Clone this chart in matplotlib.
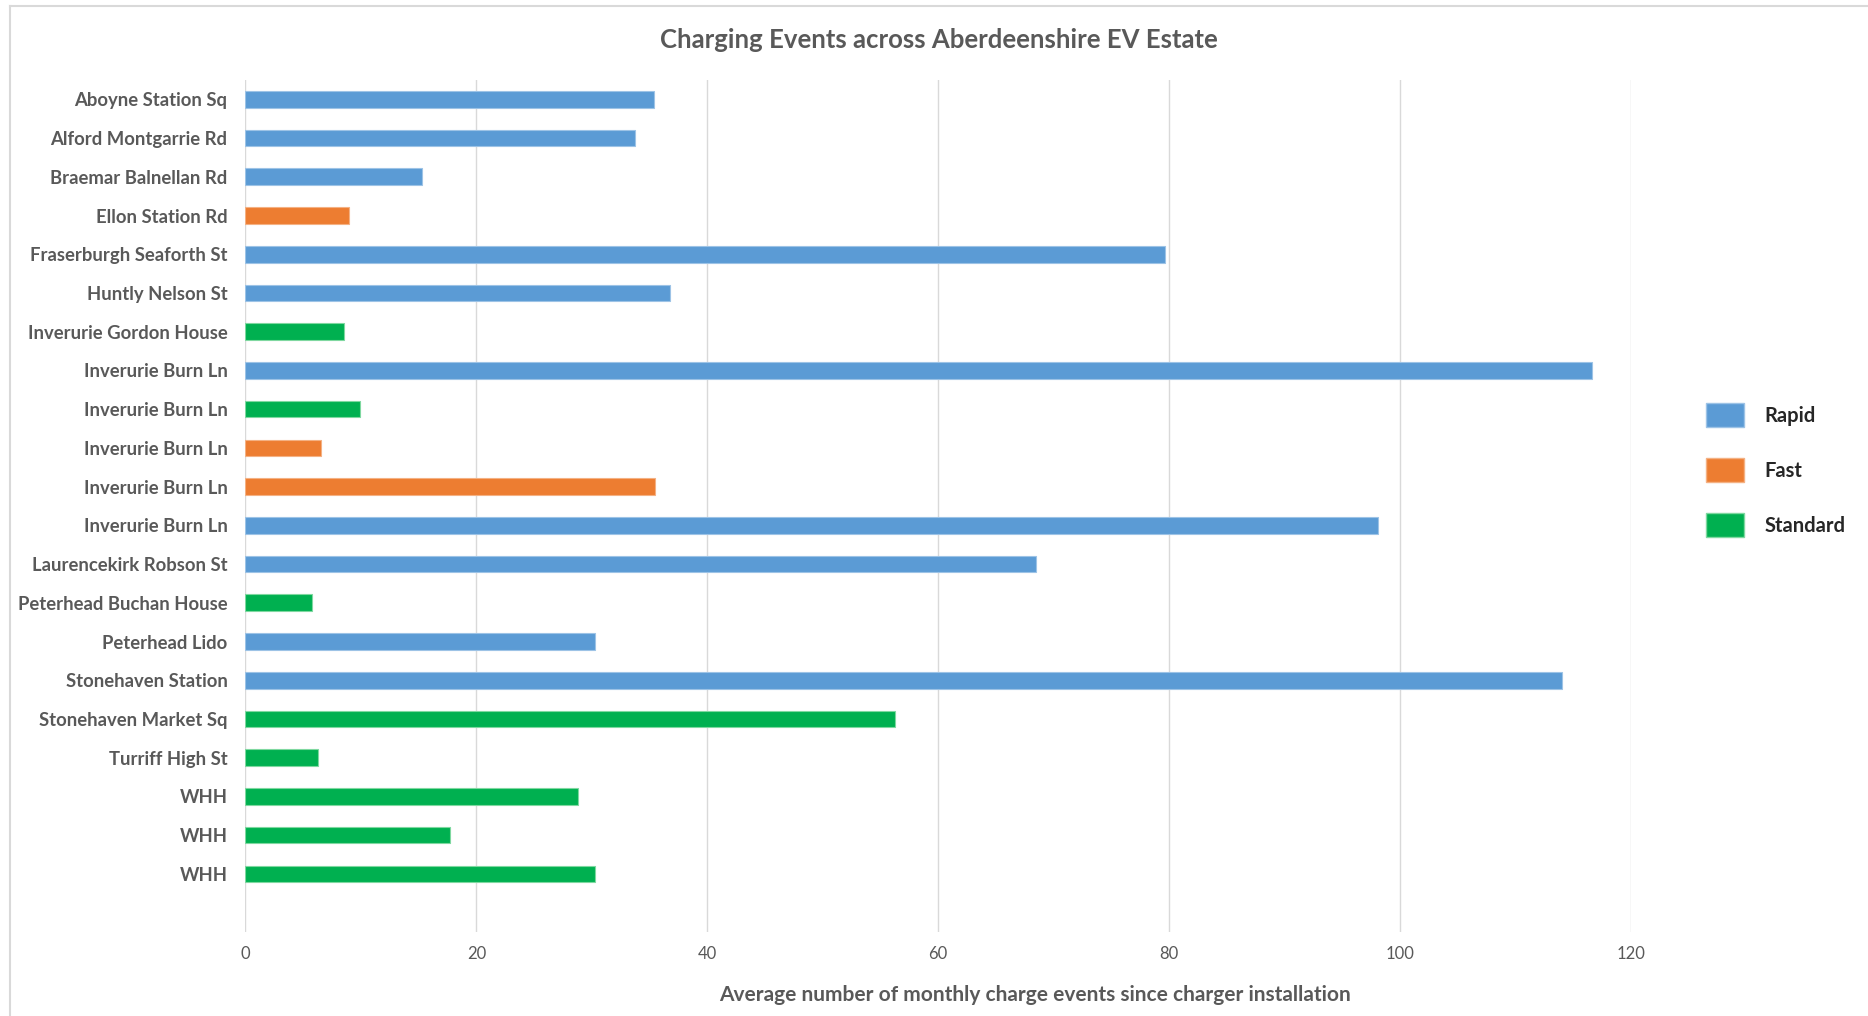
import matplotlib
matplotlib.use("Agg")
import matplotlib.pyplot as plt
from matplotlib.patches import Patch
from matplotlib.lines import Line2D

# Chart data
sites = [
    "Aboyne Station Sq", "Alford Montgarrie Rd", "Braemar Balnellan Rd", "Ellon Station Rd",
    "Fraserburgh Seaforth St", "Huntly Nelson St", "Inverurie Gordon House", "Inverurie Burn Ln",
    "Inverurie Burn Ln", "Inverurie Burn Ln", "Inverurie Burn Ln", "Inverurie Burn Ln",
    "Laurencekirk Robson St", "Peterhead Buchan House", "Peterhead Lido", "Stonehaven Station",
    "Stonehaven Market Sq", "Turriff High St", "WHH", "WHH", "WHH",
]
charger_type = [
    "Rapid", "Rapid", "Rapid", "Fast", "Rapid", "Rapid", "Standard", "Rapid",
    "Standard", "Fast", "Fast", "Rapid", "Rapid", "Standard", "Rapid", "Rapid",
    "Standard", "Standard", "Standard", "Standard", "Standard",
]
monthly_events = [
    35.4, 33.7, 15.3, 9.0, 79.6, 36.8, 8.5, 116.6,
    9.9, 6.5, 35.5, 98.1, 68.5, 5.8, 30.3, 114.0,
    56.3, 6.3, 28.8, 17.7, 30.3,
]
x_ticks = [0, 20, 40, 60, 80, 100, 120]

type_colors = {"Rapid": "#5B9BD5", "Fast": "#ED7D31", "Standard": "#00B050"}
edge_colors = {"Rapid": "#9DC3E6", "Fast": "#F4B183", "Standard": "#7FD8A0"}
label_grey = "#595959"
font = "Lato"

fig = plt.figure(figsize=(18.68, 10.16), dpi=100)
ax = fig.add_axes([0.1314, 0.0827, 0.7417, 0.8386])

positions = list(range(len(sites)))
ax.barh(positions, monthly_events, height=0.43,
        color=[type_colors[t] for t in charger_type],
        edgecolor=[edge_colors[t] for t in charger_type], linewidth=0.8, zorder=3)

# one empty slot below the last bar, as in the reference
ax.set_ylim(len(sites) + 0.5, -0.5)
ax.set_xlim(0, 120)
ax.set_yticks(positions)
ax.set_yticklabels(sites, fontsize=13.3, fontweight="bold", color=label_grey, family=font)
ax.set_xticks(x_ticks)
ax.set_xticklabels([str(v) for v in x_ticks], fontsize=12, color=label_grey, family=font)
ax.tick_params(axis="y", length=0, pad=13)
ax.tick_params(axis="x", length=0, pad=10)
ax.grid(axis="x", color="#D9D9D9", linewidth=1, zorder=0)
for s in ax.spines.values():
    s.set_visible(False)

fig.text(939 / 1868, 1 - 40 / 1016, "Charging Events across Aberdeenshire EV Estate",
         ha="center", va="center", fontsize=18.5, fontweight="bold", color=label_grey, family=font)
fig.text(1035 / 1868, 1 - 995 / 1016, "Average number of monthly charge events since charger installation",
         ha="center", va="center", fontsize=15, fontweight="bold", color=label_grey, family=font)

handles = [Patch(facecolor=type_colors[k], edgecolor=edge_colors[k], linewidth=1) for k in type_colors]
leg = fig.legend(handles, list(type_colors), loc="center left", bbox_to_anchor=(1706 / 1868, 1 - 470 / 1016),
                 frameon=False, handlelength=1.9, handleheight=1.45, labelspacing=1.55, handletextpad=1.0,
                 borderpad=0, borderaxespad=0,
                 prop={"family": font, "weight": "bold", "size": 14.5})
for t in leg.get_texts():
    t.set_color("#262626")

# light chart border (top and left edges)
fig.add_artist(Line2D([10 / 1868, 1], [1 - 6 / 1016, 1 - 6 / 1016], transform=fig.transFigure,
                      color="#D9D9D9", linewidth=1.5))
fig.add_artist(Line2D([10 / 1868, 10 / 1868], [0, 1 - 6 / 1016], transform=fig.transFigure,
                      color="#D9D9D9", linewidth=1.5))

fig.savefig("out.png", dpi=100)
